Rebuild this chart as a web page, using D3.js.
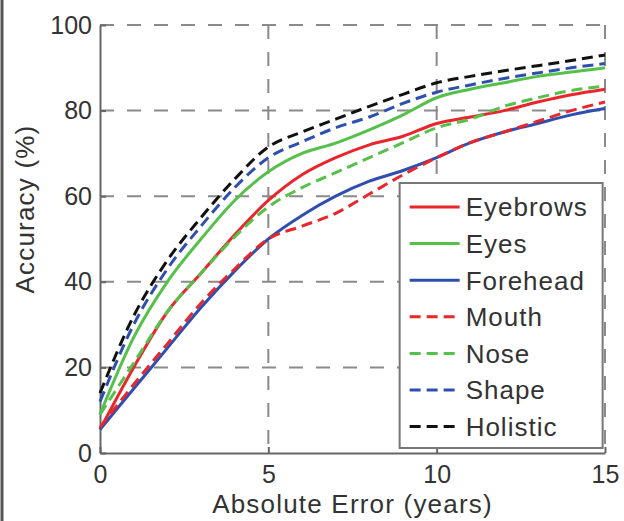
<!DOCTYPE html>
<html>
<head>
<meta charset="utf-8">
<script src="https://cdn.jsdelivr.net/npm/d3@7"></script>
<style>
  body { margin: 0; background: #fff; }
  text { font-family: "Liberation Sans", Arial, sans-serif; fill: #333; }
</style>
</head>
<body>
<div id="chart"></div>
<script>
// error threshold in years
const errYears = [0, 1, 2, 3, 4, 5, 6, 7, 8, 9, 10, 11, 12, 13, 14, 15];

const eyebrows = [5.5, 20, 33, 42, 51, 59, 65, 69, 72, 74, 77, 78.5, 80, 82, 83.7, 85];
const eyes     = [9, 27, 40, 50, 59, 65.7, 70, 72.4, 75.5, 79, 83, 85, 86.5, 88, 89, 90];
const forehead = [5.5, 15, 24.5, 34, 42.5, 50, 55.5, 60, 63.5, 66, 69, 72.5, 75, 77, 79, 80.5];
const mouth    = [6, 16, 25.5, 35, 43, 50, 53, 56, 60.5, 65, 69, 72.5, 75, 77.5, 80, 82];
const nose     = [9, 21, 33, 42, 50.5, 57.5, 62, 65.5, 69, 72.5, 76, 78, 81, 83, 84.7, 85.7];
const shape    = [12, 30, 43, 53, 62, 69, 72.7, 76, 78.5, 81.7, 84.3, 86, 87.5, 88.8, 90, 91];
const holistic = [14, 32, 45, 55, 64, 71.5, 75, 78, 81, 83.8, 86.5, 88, 89.3, 90.5, 91.7, 93];

const seriesNames = ["Eyebrows", "Eyes", "Forehead", "Mouth", "Nose", "Shape", "Holistic"];
const seriesValues = [eyebrows, eyes, forehead, mouth, nose, shape, holistic];

const xTicks = [0, 5, 10, 15];
const yTicks = [0, 20, 40, 60, 80, 100];

const colors = {
  Eyebrows: "#e8262b", Eyes: "#55c04a", Forehead: "#2f4fae",
  Mouth: "#e8262b", Nose: "#55c04a", Shape: "#2f4fae", Holistic: "#111111"
};
const dashed = { Mouth: true, Nose: true, Shape: true, Holistic: true };

const W = 624, H = 521;
const margin = { top: 25, right: 19, bottom: 68, left: 100 };
const width = W - margin.left - margin.right;
const height = H - margin.top - margin.bottom;

const root = d3.select("#chart").append("svg")
  .attr("width", W)
  .attr("height", H);

// frame edge on the left of the picture
root.append("line")
  .attr("x1", 2).attr("x2", 2).attr("y1", 0).attr("y2", H)
  .attr("stroke", "#555").attr("stroke-width", 3);

const svg = root.append("g")
  .attr("transform", `translate(${margin.left},${margin.top})`);

const x = d3.scaleLinear().domain([0, 15]).range([0, width]);
const y = d3.scaleLinear().domain([0, 100]).range([height, 0]);

// grid
const grid = svg.append("g").attr("stroke", "#8a8a8a").attr("stroke-width", 2)
  .attr("stroke-dasharray", "14,13");
grid.selectAll("line.h")
  .data(yTicks.filter(d => d > 0))
  .enter().append("line")
  .attr("class", "h")
  .attr("x1", 0).attr("x2", width)
  .attr("y1", d => y(d)).attr("y2", d => y(d));
grid.selectAll("line.v")
  .data(xTicks.filter(d => d > 0))
  .enter().append("line")
  .attr("class", "v")
  .attr("x1", d => x(d)).attr("x2", d => x(d))
  .attr("y1", 0).attr("y2", height);

// axes
const xAxis = svg.append("g")
  .attr("transform", `translate(0,${height})`)
  .call(d3.axisBottom(x).tickValues(xTicks).tickSizeInner(-6).tickSizeOuter(0).tickPadding(12));
const yAxis = svg.append("g")
  .call(d3.axisLeft(y).tickValues(yTicks).tickSizeInner(-6).tickSizeOuter(0).tickPadding(8));

[xAxis, yAxis].forEach(a => {
  a.select(".domain").attr("stroke", "#666").attr("stroke-width", 2);
  a.selectAll(".tick line").attr("stroke", "#666").attr("stroke-width", 2);
  a.selectAll(".tick text").style("font-size", "25px").attr("fill", "#333");
});
xAxis.selectAll(".tick text").attr("dy", "0.71em");

// lines
const line = d3.line()
  .x((d, i) => x(errYears[i]))
  .y(d => y(d))
  .curve(d3.curveMonotoneX);

svg.selectAll("path.series")
  .data(seriesNames)
  .enter().append("path")
  .attr("class", "series")
  .attr("fill", "none")
  .attr("stroke", d => colors[d])
  .attr("stroke-width", 3)
  .attr("stroke-dasharray", d => dashed[d] ? "11,6" : null)
  .attr("d", (d, i) => line(seriesValues[i]));

// legend
const lx = x(8.9), ly = 158, lw = 203, lh = 265;
const legend = svg.append("g").attr("transform", `translate(${lx},${ly})`);
legend.append("rect")
  .attr("width", lw).attr("height", lh)
  .attr("fill", "#fff").attr("stroke", "#777").attr("stroke-width", 2);

const item = legend.selectAll("g.item")
  .data(seriesNames)
  .enter().append("g")
  .attr("class", "item")
  .attr("transform", (d, i) => `translate(0,${24 + i * 36.6})`);

item.append("line")
  .attr("x1", 10).attr("x2", 60)
  .attr("stroke", d => colors[d])
  .attr("stroke-width", 3)
  .attr("stroke-dasharray", d => dashed[d] ? "11,6" : null);

item.append("text")
  .attr("x", 66)
  .attr("dy", "0.36em")
  .style("font-size", "26px")
  .style("letter-spacing", "1px")
  .text(d => d);

// axis titles
svg.append("text")
  .attr("x", width / 2)
  .attr("y", height + 60)
  .attr("text-anchor", "middle")
  .style("font-size", "26px")
  .style("letter-spacing", "1.2px")
  .text("Absolute Error (years)");

svg.append("text")
  .attr("transform", `translate(${-66},${y(57)}) rotate(-90)`)
  .attr("text-anchor", "middle")
  .style("font-size", "26px")
  .style("letter-spacing", "1.2px")
  .text("Accuracy (%)");
</script>
</body>
</html>
